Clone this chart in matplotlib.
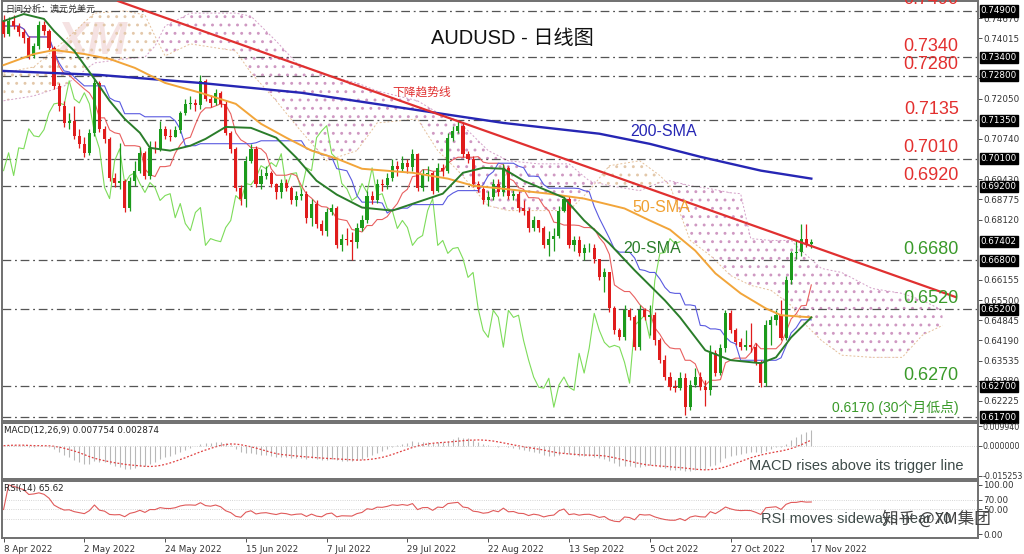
import numpy as np
import pandas as pd
import matplotlib
matplotlib.use("Agg")
import matplotlib.pyplot as plt
import matplotlib.transforms as mtrans

plt.rcParams['font.family'] = ['Liberation Sans', 'Noto Sans CJK SC', 'DejaVu Sans']
plt.rcParams['hatch.linewidth'] = 0.9

# daily candles 8 Apr 2022 .. 17 Nov 2022 (open = previous close)
first_open = 0.7457
close = [0.7415, 0.7457, 0.7441, 0.7422, 0.7402, 0.7344, 0.7376, 0.7444, 0.7425, 0.7370,
         0.7246, 0.7181, 0.7126, 0.7133, 0.7084, 0.7058, 0.7029, 0.7094, 0.7256, 0.7107,
         0.7074, 0.6948, 0.6932, 0.6938, 0.6851, 0.6938, 0.6971, 0.7029, 0.6955, 0.7045,
         0.7042, 0.7107, 0.7084, 0.7081, 0.7104, 0.7159, 0.7188, 0.7191, 0.7185, 0.7263,
         0.7204, 0.7191, 0.7224, 0.7188, 0.7094, 0.7042, 0.6916, 0.6880, 0.7003, 0.7042,
         0.6929, 0.6955, 0.6964, 0.6929, 0.6900, 0.6932, 0.6916, 0.6874, 0.6890, 0.6896,
         0.6818, 0.6864, 0.6799, 0.6776, 0.6835, 0.6851, 0.6728, 0.6750, 0.6744, 0.6740,
         0.6786, 0.6809, 0.6890, 0.6874, 0.6929, 0.6925, 0.6948, 0.6987, 0.6977, 0.6997,
         0.6984, 0.7026, 0.6916, 0.6961, 0.6964, 0.6906, 0.6980, 0.6971, 0.7078, 0.7100,
         0.7117, 0.7026, 0.7010, 0.6929, 0.6912, 0.6874, 0.6886, 0.6929, 0.6900, 0.6980,
         0.6890, 0.6896, 0.6848, 0.6841, 0.6783, 0.6809, 0.6786, 0.6728, 0.6750, 0.6760,
         0.6841, 0.6880, 0.6728, 0.6744, 0.6702, 0.6718, 0.6721, 0.6685, 0.6624, 0.6640,
         0.6523, 0.6452, 0.6429, 0.6517, 0.6494, 0.6397, 0.6517, 0.6494, 0.6501, 0.6419,
         0.6355, 0.6300, 0.6267, 0.6264, 0.6296, 0.6202, 0.6274, 0.6300, 0.6267, 0.6257,
         0.6377, 0.6313, 0.6394, 0.6507, 0.6452, 0.6413, 0.6397, 0.6403, 0.6397, 0.6348,
         0.6280, 0.6468, 0.6484, 0.6501, 0.6426, 0.6614, 0.6702, 0.6705, 0.6750, 0.6734,
         0.6740]
high = [0.7477, 0.7470, 0.7477, 0.7451, 0.7431, 0.7408, 0.7386, 0.7457, 0.7457, 0.7431,
        0.7376, 0.7256, 0.7198, 0.7159, 0.7181, 0.7107, 0.7081, 0.7107, 0.7269, 0.7263,
        0.7117, 0.7081, 0.6964, 0.7061, 0.6945, 0.6951, 0.7003, 0.7049, 0.7036, 0.7068,
        0.7068, 0.7133, 0.7117, 0.7107, 0.7117, 0.7165, 0.7204, 0.7214, 0.7204, 0.7282,
        0.7269, 0.7217, 0.7237, 0.7230, 0.7198, 0.7100, 0.7049, 0.6925, 0.7019, 0.7058,
        0.7052, 0.6977, 0.6987, 0.6971, 0.6932, 0.6945, 0.6945, 0.6922, 0.6906, 0.6912,
        0.6906, 0.6880, 0.6874, 0.6809, 0.6848, 0.6864, 0.6857, 0.6766, 0.6783, 0.6770,
        0.6802, 0.6828, 0.6906, 0.6906, 0.6945, 0.6945, 0.6964, 0.7010, 0.7003, 0.7019,
        0.7010, 0.7042, 0.7029, 0.6977, 0.6987, 0.6971, 0.6997, 0.6993, 0.7094, 0.7117,
        0.7133, 0.7126, 0.7036, 0.7019, 0.6938, 0.6922, 0.6906, 0.6945, 0.6945, 0.6993,
        0.6987, 0.6912, 0.6906, 0.6874, 0.6848, 0.6825, 0.6809, 0.6792, 0.6776, 0.6783,
        0.6857, 0.6893, 0.6887, 0.6760, 0.6757, 0.6731, 0.6737, 0.6731, 0.6685, 0.6653,
        0.6640, 0.6530, 0.6458, 0.6533, 0.6523, 0.6501, 0.6533, 0.6523, 0.6533, 0.6510,
        0.6426, 0.6371, 0.6316, 0.6290, 0.6316, 0.6313, 0.6290, 0.6329, 0.6316, 0.6290,
        0.6403, 0.6387, 0.6407, 0.6517, 0.6517, 0.6458, 0.6426, 0.6452, 0.6475, 0.6410,
        0.6355, 0.6484, 0.6497, 0.6517, 0.6549, 0.6627, 0.6711, 0.6744, 0.6796, 0.6796,
        0.6750]
low = [0.7405, 0.7408, 0.7431, 0.7408, 0.7386, 0.7334, 0.7337, 0.7366, 0.7412, 0.7360,
       0.7237, 0.7165, 0.7113, 0.7107, 0.7074, 0.7045, 0.7016, 0.7023, 0.7084, 0.7097,
       0.7061, 0.6938, 0.6919, 0.6912, 0.6835, 0.6841, 0.6922, 0.6964, 0.6945, 0.6945,
       0.7029, 0.7036, 0.7074, 0.7068, 0.7081, 0.7094, 0.7152, 0.7172, 0.7165, 0.7172,
       0.7198, 0.7178, 0.7185, 0.7178, 0.7087, 0.7029, 0.6906, 0.6860, 0.6854, 0.6997,
       0.6919, 0.6912, 0.6945, 0.6919, 0.6880, 0.6883, 0.6906, 0.6864, 0.6857, 0.6874,
       0.6802, 0.6792, 0.6783, 0.6763, 0.6760, 0.6828, 0.6718, 0.6711, 0.6728, 0.6679,
       0.6718, 0.6776, 0.6802, 0.6861, 0.6867, 0.6906, 0.6912, 0.6938, 0.6955, 0.6971,
       0.6964, 0.6971, 0.6906, 0.6906, 0.6938, 0.6896, 0.6900, 0.6955, 0.6964, 0.7068,
       0.7094, 0.7016, 0.6997, 0.6919, 0.6900, 0.6864, 0.6857, 0.6874, 0.6890, 0.6890,
       0.6880, 0.6874, 0.6838, 0.6828, 0.6773, 0.6776, 0.6770, 0.6718, 0.6695, 0.6711,
       0.6753, 0.6835, 0.6718, 0.6711, 0.6692, 0.6679, 0.6705, 0.6672, 0.6614, 0.6575,
       0.6510, 0.6439, 0.6419, 0.6419, 0.6484, 0.6387, 0.6387, 0.6484, 0.6436, 0.6403,
       0.6345, 0.6290, 0.6257, 0.6251, 0.6257, 0.6176, 0.6192, 0.6267, 0.6257, 0.6206,
       0.6241, 0.6303, 0.6306, 0.6381, 0.6442, 0.6403, 0.6387, 0.6387, 0.6381, 0.6338,
       0.6267, 0.6270, 0.6403, 0.6468, 0.6419, 0.6419, 0.6604, 0.6685, 0.6692, 0.6724,
       0.6718]

date_pos = [0, 16, 32, 48, 64, 80, 96, 112, 128, 144, 160]
date_labels = ['8 Apr 2022', '2 May 2022', '24 May 2022', '15 Jun 2022', '7 Jul 2022',
               '29 Jul 2022', '22 Aug 2022', '13 Sep 2022', '5 Oct 2022', '27 Oct 2022',
               '17 Nov 2022']

# moving averages
sma20_idx = [0, 4, 8, 10, 14, 18, 21, 24, 27, 29, 33, 37, 40, 44, 49, 54, 58, 62, 66, 71,
             77, 83, 87, 91, 95, 99, 103, 111, 115, 120, 125, 131, 134, 139, 144, 150, 153, 156, 160]
sma20 = [0.7457, 0.7480, 0.7464, 0.7425, 0.7360, 0.7269, 0.7198, 0.7139, 0.7094, 0.7045,
         0.7036, 0.7052, 0.7074, 0.7113, 0.7110, 0.7078, 0.7013, 0.6938, 0.6893, 0.6851,
         0.6841, 0.6874, 0.6896, 0.6964, 0.6980, 0.6977, 0.6938, 0.6883, 0.6809, 0.6734,
         0.6647, 0.6549, 0.6494, 0.6387, 0.6355, 0.6345, 0.6364, 0.6429, 0.6494]
sma50_idx = [0, 6, 10, 16, 21, 26, 32, 39, 46, 51, 56, 61, 66, 71, 81, 88, 93, 99, 108, 115,
             123, 128, 132, 137, 141, 146, 151, 154, 160]
sma50 = [0.7314, 0.7350, 0.7363, 0.7350, 0.7334, 0.7305, 0.7256, 0.7224, 0.7188, 0.7123,
         0.7078, 0.7036, 0.7010, 0.6977, 0.6964, 0.6945, 0.6922, 0.6912, 0.6896, 0.6880,
         0.6848, 0.6809, 0.6779, 0.6711, 0.6637, 0.6572, 0.6523, 0.6501, 0.6494]
sma200_idx = [0, 19, 39, 59, 79, 99, 118, 128, 138, 150, 160]
sma200 = [0.7295, 0.7282, 0.7256, 0.7224, 0.7175, 0.7126, 0.7091, 0.7058, 0.7016, 0.6971, 0.6945]

# ichimoku cloud edges (shifted 26 bars ahead)
cloud_idx = [0, 6, 12, 18, 24, 28, 30, 32, 37, 46, 49, 54, 58, 64, 70, 74, 82, 86, 90, 96,
             100, 106, 112, 116, 120, 126, 130, 132, 136, 140, 144, 146, 148, 152, 156, 158,
             162, 166, 172, 178, 182, 186]
span_a = [0.7289, 0.7308, 0.7392, 0.7483, 0.7490, 0.7477, 0.7408, 0.7344, 0.7383, 0.7360,
          0.7289, 0.7198, 0.7117, 0.7003, 0.7036, 0.7126, 0.7139, 0.7036, 0.6971, 0.6857,
          0.6841, 0.6841, 0.6841, 0.6906, 0.6987, 0.7003, 0.6955, 0.6922, 0.6744, 0.6695,
          0.6630, 0.6614, 0.6598, 0.6582, 0.6533, 0.6484, 0.6419, 0.6371, 0.6364, 0.6364,
          0.6436, 0.6468]
span_b = [0.7198, 0.7214, 0.7246, 0.7321, 0.7334, 0.7340, 0.7376, 0.7441, 0.7483, 0.7483,
          0.7473, 0.7392, 0.7321, 0.7279, 0.7256, 0.7230, 0.7198, 0.7159, 0.7133, 0.7036,
          0.7003, 0.6993, 0.6993, 0.6938, 0.6922, 0.6906, 0.6932, 0.6938, 0.6922, 0.6912,
          0.6899, 0.6896, 0.6750, 0.6744, 0.6744, 0.6711, 0.6653, 0.6640, 0.6588, 0.6572,
          0.6549, 0.6517]

trend_x = [22.7, 188.6]
trend_y = [0.7522, 0.6560]

levels = [0.7490, 0.7340, 0.7280, 0.7135, 0.7010, 0.6920, 0.6680, 0.6520, 0.6270, 0.6170]
level_text = ['0.7490', '0.7340', '0.7280', '0.7135', '0.7010', '0.6920',
              '0.6680', '0.6520', '0.6270', '0.6170 (30个月低点)']
box_prices = [0.74900, 0.73400, 0.72800, 0.71350, 0.70100, 0.69200, 0.67402,
              0.66800, 0.65200, 0.62700, 0.61700]
price_ticks = [0.74670, 0.74015, 0.72705, 0.72050, 0.70740, 0.69430, 0.68775, 0.68120,
               0.66155, 0.65500, 0.64845, 0.64190, 0.63535, 0.62880, 0.62225]

# ---------------------------------------------------------------
x = np.arange(len(close))
c = np.array(close)
o = np.array([first_open] + close[:-1])
h = np.array(high)
l = np.array(low)
s = pd.Series(c)

tenkan = (pd.Series(h).rolling(9, min_periods=1).max() + pd.Series(l).rolling(9, min_periods=1).min()) / 2
kijun = (pd.Series(h).rolling(26, min_periods=1).max() + pd.Series(l).rolling(26, min_periods=1).min()) / 2

macd = s.ewm(span=12, adjust=False).mean() - s.ewm(span=26, adjust=False).mean()
signal = macd.rolling(9, min_periods=1).mean()

d = s.diff()
gain = d.clip(lower=0).ewm(alpha=1/14, adjust=False).mean()
loss = (-d.clip(upper=0)).ewm(alpha=1/14, adjust=False).mean()
rsi = 100 - 100 / (1 + gain / loss)
rsi[0] = 50

fig = plt.figure(figsize=(10.24, 5.54), dpi=100)
L, R = 0.002, 0.955
ax = fig.add_axes([L, 0.240, R - L, 0.758])
axm = fig.add_axes([L, 0.1354, R - L, 0.1011], sharex=ax)
axr = fig.add_axes([L, 0.0289, R - L, 0.1029], sharex=ax)

for a in (ax, axm, axr):
    for sp in a.spines.values():
        sp.set_color('#707070')
        sp.set_linewidth(1.4)
    a.yaxis.tick_right()
    a.tick_params(axis='y', labelsize=6.3, length=3, pad=1, colors='#333333', width=0.6,
                  labelfontfamily='DejaVu Sans')
    a.tick_params(axis='x', length=0)

ax.set_xlim(-0.3, 193)
ax.set_ylim(0.6157, 0.7522)

# cloud
ci = np.array(cloud_idx)
sa = np.array(span_a)
sb = np.array(span_b)
ax.fill_between(ci, sa, sb, where=sa >= sb, interpolate=True, facecolor='none',
                edgecolor='#e3c8aa', hatch='..', linewidth=0, zorder=1)
ax.fill_between(ci, sa, sb, where=sa < sb, interpolate=True, facecolor='none',
                edgecolor='#cf98c2', hatch='..', linewidth=0, zorder=1)
ax.plot(ci, sa, color='#e5c09a', lw=0.7, ls=(0, (2, 2)), zorder=1)
ax.plot(ci, sb, color='#d4a0c8', lw=0.7, ls=(0, (2, 2)), zorder=1)

# levels
for lv, tx in zip(levels, level_text):
    ax.axhline(lv, color='#555555', lw=0.9, ls=(0, (7, 3, 1.5, 3)), zorder=1)
    col = '#e3302f' if lv > 0.69 else '#3a9a2a'
    fs = 10 if '(' in tx else 13
    ax.text(189.2, lv + 0.0008, tx, color=col, fontsize=fs, ha='right', va='bottom', zorder=6)

# ichimoku lines
ax.plot(x[:-26], c[26:], color='#7ddc5a', lw=0.8, zorder=2)
ax.plot(x, tenkan, color='#e86060', lw=0.8, zorder=2)
ax.plot(x, kijun, color='#5a5ae0', lw=0.8, zorder=2)

# candles
up = c >= o
col = np.where(up, '#1c9a1c', '#e01c1c')
ax.vlines(x, l, h, colors=col, lw=0.9, zorder=3)
body = np.maximum(np.abs(c - o), 0.00025)
ax.bar(x, body, bottom=np.minimum(o, c), width=0.62, color=col, zorder=4)

# moving averages
ax.plot(sma200_idx, sma200, color='#2626b4', lw=1.7, zorder=5)
ax.plot(sma50_idx, sma50, color='#f2a53a', lw=1.4, zorder=5)
ax.plot(sma20_idx, sma20, color='#2a7d2a', lw=1.4, zorder=5)

# trend line
ax.plot(trend_x, trend_y, color='#e03030', lw=1.6, zorder=5)

ax.text(124.1, 0.7097, '200-SMA', color='#2626b4', fontsize=11.5, va='center', zorder=6)
ax.text(124.6, 0.6851, '50-SMA', color='#f0a030', fontsize=11.5, va='center', zorder=6)
ax.text(122.7, 0.6718, '20-SMA', color='#2a7d2a', fontsize=11.5, va='center', zorder=6)
ax.text(77.1, 0.7224, '下降趋势线', color='#e03030', fontsize=8.5, va='center', zorder=6)
ax.text(0.5225, 0.912, 'AUDUSD - 日线图', transform=ax.transAxes, fontsize=14.5,
        ha='center', va='center', color='#111111', zorder=6)
ax.text(0.003, 0.992, '日间分析：澳元兑美元', transform=ax.transAxes, fontsize=6.5,
        ha='left', va='top', color='#333333', zorder=6)
ax.text(0.055, 0.955, 'XM', transform=ax.transAxes, fontsize=34, fontweight='bold',
        style='italic', ha='left', va='top', color='#f5e2e2', zorder=0)

ax.set_yticks(price_ticks)
ax.set_yticklabels(['%.5f' % p for p in price_ticks])
trans = mtrans.blended_transform_factory(ax.transAxes, ax.transData)
for p in box_prices:
    ax.text(1.003, p, '%.5f' % p, transform=trans, fontsize=6.3, color='white',
            family='DejaVu Sans', ha='left', va='center', clip_on=False, zorder=10,
            bbox=dict(boxstyle='square,pad=0.12', fc='black', ec='black'))
plt.setp(ax.get_xticklabels(), visible=False)

# MACD
axm.set_ylim(-0.0168, 0.0115)
axm.vlines(x, 0, macd, color='#b8b8b8', lw=0.8)
axm.plot(x, signal, color='#e04040', lw=0.9, ls=(0, (1.5, 1.5)))
axm.axhline(0, color='#c8c8c8', lw=0.6, ls=':')
axm.set_yticks([0.009940, 0.0, -0.015253])
axm.set_yticklabels(['0.009940', '0.000000', '-0.015253'])
axm.tick_params(axis='y', labelsize=5.7, pad=0.5)
axm.text(0.002, 0.95, 'MACD(12,26,9) 0.007754 0.002874', transform=axm.transAxes,
         fontsize=6.3, family='DejaVu Sans', va='top', color='#222222')
axm.text(0.985, 0.24, 'MACD rises above its trigger line', transform=axm.transAxes,
         fontsize=10.5, ha='right', va='center', color='#3d4a48')
plt.setp(axm.get_xticklabels(), visible=False)

# RSI
axr.set_ylim(-8, 108)
for lv in (70, 50, 30):
    axr.axhline(lv, color='#c8c8c8', lw=0.6, ls=':')
axr.plot(x, rsi, color='#e05a5a', lw=0.8)
axr.set_yticks([100, 70, 50, 0])
axr.set_yticklabels(['100.00', '70.00', '50.00', '0.00'])
axr.text(0.002, 0.95, 'RSI(14) 65.62', transform=axr.transAxes, fontsize=6.3,
         family='DejaVu Sans', va='top', color='#222222')
axr.text(0.778, 0.33, 'RSI moves sideways near 70', transform=axr.transAxes,
         fontsize=10.5, ha='left', va='center', color='#3d4a48')
axr.set_xticks(date_pos)
axr.set_xticklabels(date_labels, ha='left', family='DejaVu Sans')
axr.tick_params(axis='x', labelsize=6.3, length=3, pad=2, colors='#333333', width=0.6)

fig.text(0.968, 0.063, '知乎 @XM集团', fontsize=12, ha='right', va='center',
         color='#444444', family=['Noto Sans CJK SC', 'DejaVu Sans'])

fig.savefig('out.png', dpi=100)
